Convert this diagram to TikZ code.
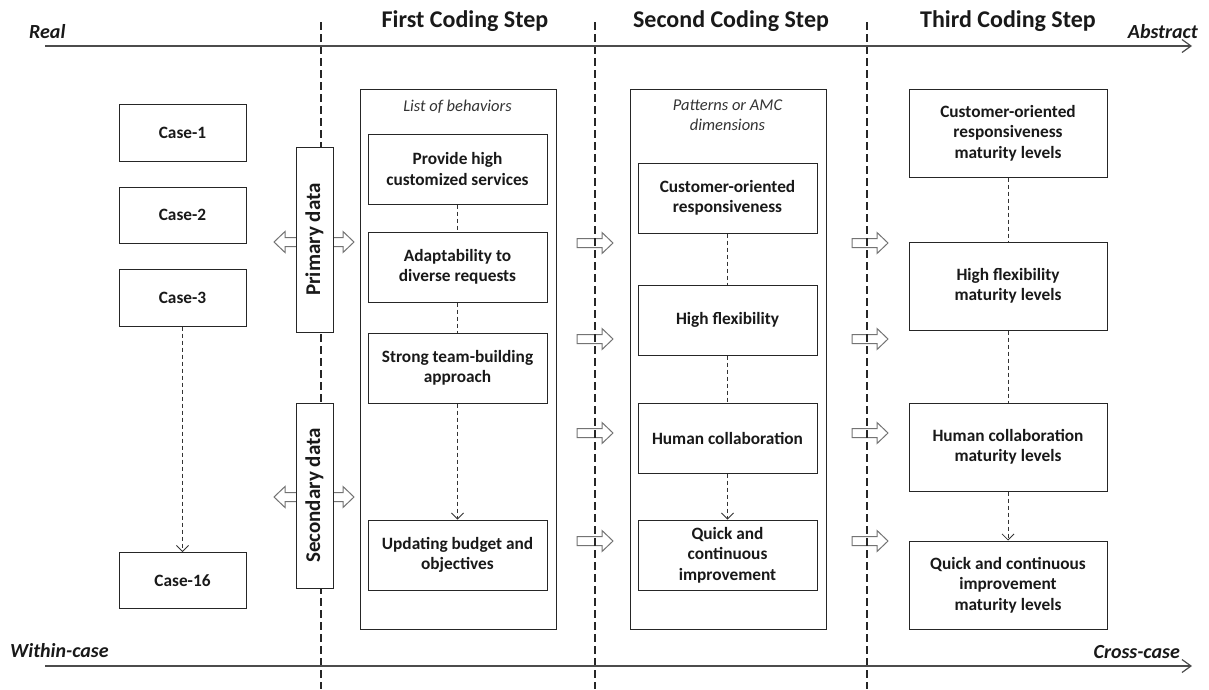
\documentclass[tikz,border=0pt]{standalone}
\usepackage{fontspec}
\setmainfont{Carlito}
\usetikzlibrary{arrows.meta}
\begin{document}
\begin{tikzpicture}[x=1pt,y=-1pt,
  box/.style={draw=black!85, line width=1pt, fill=white, inner sep=0pt, align=center,
    text=black!90, font=\bfseries\fontsize{17.3}{20.5}\selectfont},
  bigbox/.style={draw=black!85, line width=1pt, inner sep=0pt},
  databox/.style={draw=black!85, line width=1pt, fill=white, inner sep=0pt,
    minimum width=37, minimum height=185},
  datatext/.style={rotate=90, text=black!90, font=\bfseries\fontsize{21}{24}\selectfont},
  divider/.style={line width=1.1pt, draw=black!85, dash pattern=on 8pt off 4pt},
  conn/.style={line width=0.8pt, draw=black!80, dash pattern=on 4pt off 3pt},
  connarr/.style={conn, -{Straight Barb[length=6pt,width=12pt,line width=0.8pt]}},
  axis/.style={line width=1.6pt, draw=black!70, -{Straight Barb[length=9pt,width=13pt,line width=1.2pt]}},
  axlabel/.style={inner sep=0pt, text=black!90, font=\bfseries\itshape\fontsize{20}{24}\selectfont},
  title/.style={inner sep=0pt, text=black!90, font=\bfseries\fontsize{24}{28}\selectfont},
  subtitle/.style={inner sep=0pt, align=center, text=black!80, font=\itshape\fontsize{16.5}{20}\selectfont},
  blockarrow/.style={draw=black!55, line width=1pt, line join=miter},
  rarrow/.pic={\draw[blockarrow] (-18,-4.5) -- (7,-4.5) -- (7,-10.5) -- (18,0) -- (7,10.5) -- (7,4.5) -- (-18,4.5) -- cycle;},
  lrarrow/.pic={\draw[blockarrow, fill=white] (-40,0) -- (-29,-10.5) -- (-29,-4.5) -- (29,-4.5) -- (29,-10.5) -- (40,0) -- (29,10.5) -- (29,4.5) -- (-29,4.5) -- (-29,10.5) -- cycle;}
]
\useasboundingbox (0,0) rectangle (1209,689);

% block arrows between columns (under the dividers)
\foreach \yy in {243,339,433,541}{
  \pic at (595,\yy) {rarrow};
  \pic at (870,\yy) {rarrow};
}

% dividers
\coordinate (d1t) at (321,22);  \coordinate (d1b) at (321,689);
\coordinate (d2t) at (595,22);  \coordinate (d2b) at (595,689);
\coordinate (d3t) at (867,22);  \coordinate (d3b) at (867,689);
\draw[divider] (d1t) -- (d1b);
\draw[divider] (d2t) -- (d2b);
\draw[divider] (d3t) -- (d3b);

% axes
\coordinate (a1s) at (45,46);  \coordinate (a1e) at (1192,46);
\coordinate (a2s) at (45,666); \coordinate (a2e) at (1192,666);
\draw[axis] (a1s) -- (a1e);
\draw[axis] (a2s) -- (a2e);
\node[axlabel, anchor=base west] (real) at (29,38) {Real};
\node[axlabel, anchor=base east] (abstract) at (1198,38) {Abstract};
\node[axlabel, anchor=base west] (within) at (10,657) {Within-case};
\node[axlabel, anchor=base east] (cross) at (1180,658) {Cross-case};

% titles
\node[title, anchor=base] (t1) at (465,27) {First Coding Step};
\node[title, anchor=base] (t2) at (731,27) {Second Coding Step};
\node[title, anchor=base] (t3) at (1008,27) {Third Coding Step};

% cases
\node[box, minimum width=127, minimum height=57] (c1) at (182.5,132.5) {Case-1};
\node[box, minimum width=127, minimum height=56] (c2) at (182.5,215) {Case-2};
\node[box, minimum width=127, minimum height=57] (c3) at (182.5,297.5) {Case-3};
\node[box, minimum width=127, minimum height=56] (c16) at (182.5,580.5) {Case-16};
\draw[connarr] (c3) -- (c16);

% data boxes with double arrows
\pic at (314,242) {lrarrow};
\pic at (314,497) {lrarrow};
\node[databox] (prim) at (314.5,239.5) {};
\node[datatext] at (prim.center) {Primary data};
\node[databox] (sec) at (314.5,495.5) {};
\node[datatext] at (sec.center) {Secondary data};

% first coding step
\node[bigbox, minimum width=196, minimum height=540] (big1) at (458,359) {};
\node[subtitle, anchor=base] (lob) at (457.5,111) {List of behaviors};
\node[box, minimum width=179, minimum height=70] (b1) at (457.5,169) {Provide high\\customized services};
\node[box, minimum width=179, minimum height=70] (b2) at (457.5,267) {Adaptability to\\diverse requests};
\node[box, minimum width=179, minimum height=70] (b3) at (457.5,368) {Strong team-building\\approach};
\node[box, minimum width=179, minimum height=70] (b4) at (457.5,555) {Updating  budget and\\objectives};
\draw[conn] (b1) -- (b2);
\draw[conn] (b2) -- (b3);
\draw[connarr] (b3) -- (b4);

% second coding step
\node[bigbox, minimum width=196, minimum height=540] (big2) at (728,359) {};
\node[subtitle] (pat) at (727.5,115) {Patterns or AMC\\dimensions};
\node[box, minimum width=179, minimum height=70] (p1) at (727.5,198) {Customer-oriented\\responsiveness};
\node[box, minimum width=179, minimum height=70] (p2) at (727.5,320) {High flexibility};
\node[box, minimum width=179, minimum height=70] (p3) at (727.5,438) {Human collaboration};
\node[box, minimum width=179, minimum height=70] (p4) at (727.5,555) {Quick and\\continuous\\improvement};
\draw[conn] (p1) -- (p2);
\draw[conn] (p2) -- (p3);
\draw[connarr] (p3) -- (p4);

% third coding step
\node[box, minimum width=198, minimum height=88] (m1) at (1008,133) {Customer-oriented\\responsiveness\\maturity levels};
\node[box, minimum width=198, minimum height=88] (m2) at (1008,286) {High flexibility\\maturity levels};
\node[box, minimum width=198, minimum height=88] (m3) at (1008,447) {Human collaboration\\maturity levels};
\node[box, minimum width=198, minimum height=88] (m4) at (1008,585) {Quick and continuous\\improvement\\maturity levels};
\draw[conn] (m1) -- (m2);
\draw[conn] (m2) -- (m3);
\draw[connarr] (m3) -- (m4);
\end{tikzpicture}
\end{document}
